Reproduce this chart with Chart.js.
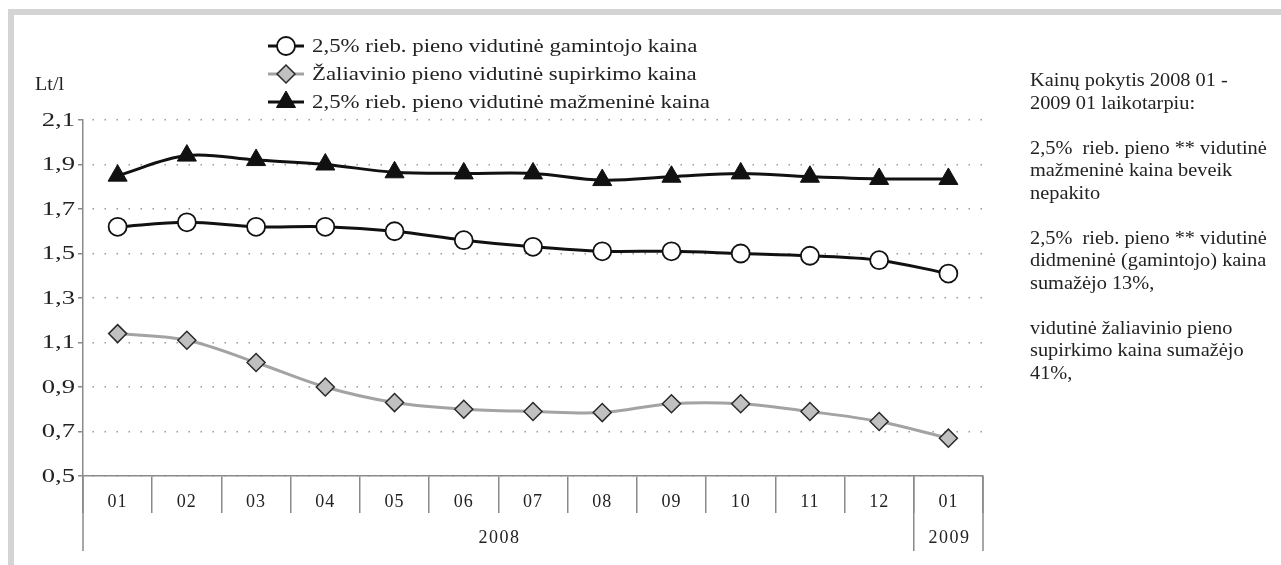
<!DOCTYPE html>
<html>
<head>
<meta charset="utf-8">
<script src="https://cdn.jsdelivr.net/npm/chart.js@4/dist/chart.umd.min.js"></script>
<style>
body { margin: 0; background: #fff; }
#wrap { position: relative; width: 1281px; height: 565px; overflow: hidden; }
#topband { position: absolute; left: 8px; right: 0; top: 9px; height: 6px; background: #d4d4d4; }
#leftband { position: absolute; left: 8px; width: 6px; top: 9px; bottom: 0; background: #d4d4d4; }
#chart { position: absolute; left: 0; top: 0; }
#note {
    position: absolute; left: 1030px; top: 69px;
    font: 18.5px 'Liberation Serif', serif; line-height: 22.5px;
    color: #222; white-space: pre;
    transform: scaleX(1.1); transform-origin: 0 0;
}
</style>
</head>
<body>
<div id="wrap">
  <div id="topband"></div>
  <div id="leftband"></div>
  <canvas id="chart" width="1281" height="565"></canvas>
  <div id="note">Kainų pokytis 2008 01 -
2009 01 laikotarpiu:

2,5%  rieb. pieno ** vidutinė
mažmeninė kaina beveik
nepakito

2,5%  rieb. pieno ** vidutinė
didmeninė (gamintojo) kaina
sumažėjo 13%,

vidutinė žaliavinio pieno
supirkimo kaina sumažėjo
41%,</div>
</div>
<script>
'use strict';

const months = [ '01', '02', '03', '04', '05', '06', '07', '08', '09', '10', '11', '12', '01' ];
const years = [ '2008', '2008', '2008', '2008', '2008', '2008', '2008', '2008', '2008', '2008', '2008', '2008', '2009' ];

// 2,5% rieb. pieno vidutinė gamintojo kaina
const producerPrice = [ 1.62, 1.64, 1.62, 1.62, 1.60, 1.56, 1.53, 1.51, 1.51, 1.50, 1.49, 1.47, 1.41 ];
// Žaliavinio pieno vidutinė supirkimo kaina
const rawMilkPrice = [ 1.14, 1.11, 1.01, 0.90, 0.83, 0.80, 0.79, 0.785, 0.825, 0.825, 0.79, 0.745, 0.67 ];
// 2,5% rieb. pieno vidutinė mažmeninė kaina
const retailPrice = [ 1.85, 1.94, 1.92, 1.90, 1.865, 1.86, 1.86, 1.83, 1.845, 1.86, 1.845, 1.835, 1.835 ];

const seriesNames = [
    '2,5% rieb. pieno vidutinė gamintojo kaina',
    'Žaliavinio pieno vidutinė supirkimo kaina',
    '2,5% rieb. pieno vidutinė mažmeninė kaina',
];

const FONT = "'Liberation Serif', serif";
const AXIS = '#8a8a8a';
const TEXT = '#222';

/**
 * 横に引き伸ばした文字列を描く
 */
function
stretchText(ctx, text, x, y, sx, align)
{
    ctx.save();
    ctx.translate(x, y);
    ctx.scale(sx, 1);
    ctx.textAlign = align;
    ctx.fillText(text, 0, 0);
    ctx.restore();
}

/**
 * 凡例（線＋マーカー）と単位、y 軸ラベルを描く
 */
const legendRows = {
    id: 'legendRows',
    afterDraw(chart) {
        const ctx = chart.ctx;
        const order = [ 1, 0, 2 ];
        ctx.save();
        ctx.letterSpacing = '0px';
        order.forEach((di, row) => {
            const ds = chart.data.datasets[di];
            const y = 46 + row * 28;
            ctx.beginPath();
            ctx.strokeStyle = ds.borderColor;
            ctx.lineWidth = ds.borderWidth;
            ctx.moveTo(268, y);
            ctx.lineTo(304, y);
            ctx.stroke();
            ctx.fillStyle = ds.pointBackgroundColor;
            ctx.strokeStyle = ds.pointBorderColor;
            ctx.lineWidth = ds.pointBorderWidth;
            Chart.helpers.drawPoint(ctx, {
                pointStyle: ds.pointStyle,
                radius: ds.pointRadius,
                rotation: 0,
                borderWidth: ds.pointBorderWidth,
            }, 286, y);
            ctx.fillStyle = TEXT;
            ctx.font = `18px ${FONT}`;
            ctx.textBaseline = 'middle';
            stretchText(ctx, ds.label, 312, y + 1, 1.27, 'left');
        });
        ctx.fillStyle = TEXT;
        ctx.font = `18px ${FONT}`;
        ctx.textBaseline = 'middle';
        stretchText(ctx, 'Lt/l', 35, chart.scales.y.top - 35, 1.12, 'left');

        // y 軸の目盛りラベル
        const y = chart.scales.y;
        ctx.font = `19px ${FONT}`;
        y.ticks.forEach(t => {
            const label = t.value.toFixed(1).replace('.', ',');
            stretchText(ctx, label, 75, y.getPixelForValue(t.value) + 1, 1.4, 'right');
        });
        ctx.restore();
    },
};

/**
 * 年の行（区切り線とラベル）を x 軸の下に描く
 */
const yearRow = {
    id: 'yearRow',
    afterDraw(chart) {
        const { ctx, scales: { x } } = chart;
        const half = (x.getPixelForValue(1) - x.getPixelForValue(0)) / 2;
        const top = x.top;
        const bottom = x.top + 75;
        const groups = [];
        years.forEach((yr, i) => {
            const last = groups[groups.length - 1];
            if (last && last.year === yr)
                last.end = i;
            else
                groups.push({ year: yr, start: i, end: i });
        });
        ctx.save();
        ctx.strokeStyle = AXIS;
        ctx.lineWidth = 1.5;
        ctx.fillStyle = TEXT;
        ctx.font = `18px ${FONT}`;
        ctx.letterSpacing = '1.5px';
        ctx.textAlign = 'center';
        ctx.textBaseline = 'middle';
        groups.forEach((g, k) => {
            const x0 = x.getPixelForValue(g.start) - half;
            const x1 = x.getPixelForValue(g.end) + half;
            ctx.beginPath();
            if (k === 0) {
                ctx.moveTo(x0, top);
                ctx.lineTo(x0, bottom);
            }
            ctx.moveTo(x1, top);
            ctx.lineTo(x1, bottom);
            ctx.stroke();
            ctx.fillText(g.year, (x0 + x1) / 2 + 1, x.top + 62);
        });
        ctx.restore();
    },
};

const spacing = {
    id: 'spacing',
    beforeDraw(chart) { chart.ctx.letterSpacing = '1px'; },
};

function
drawChart(canvas)
{
    return new Chart(canvas, {
        type: 'line',
        data: {
            labels: months,
            datasets: [
                {
                    label: seriesNames[1],
                    data: rawMilkPrice,
                    borderColor: '#a3a3a3',
                    borderWidth: 3,
                    tension: 0.35,
                    pointStyle: 'rectRot',
                    pointRadius: 9,
                    pointBackgroundColor: '#c0c0c0',
                    pointBorderColor: '#2a2a2a',
                    pointBorderWidth: 1.5,
                },
                {
                    label: seriesNames[0],
                    data: producerPrice,
                    borderColor: '#111',
                    borderWidth: 3,
                    tension: 0.35,
                    pointStyle: 'circle',
                    pointRadius: 9,
                    pointBackgroundColor: '#fff',
                    pointBorderColor: '#111',
                    pointBorderWidth: 1.8,
                },
                {
                    label: seriesNames[2],
                    data: retailPrice,
                    borderColor: '#111',
                    borderWidth: 3,
                    tension: 0.35,
                    pointStyle: 'triangle',
                    pointRadius: 11,
                    pointBackgroundColor: '#111',
                    pointBorderColor: '#111',
                    pointBorderWidth: 1,
                },
            ],
        },
        options: {
            responsive: false,
            animation: false,
            layout: { padding: { top: 120, right: 298, bottom: 0, left: 0 } },
            plugins: { legend: { display: false }, tooltip: { enabled: false } },
            scales: {
                x: {
                    offset: true,
                    grid: {
                        offset: true,
                        drawOnChartArea: false,
                        tickLength: 37,
                        color: AXIS,
                        lineWidth: 1.5,
                    },
                    border: { color: AXIS, width: 1.5 },
                    ticks: { padding: -22, color: TEXT, font: { family: FONT, size: 18 } },
                    afterFit(s) { s.height = 89; },
                },
                y: {
                    min: 0.5,
                    max: 2.1,
                    ticks: { stepSize: 0.2, display: false },
                    grid: {
                        color: '#9a9a9a',
                        lineWidth: 1.5,
                        tickLength: 5,
                        tickBorderDash: [],
                        tickColor: AXIS,
                    },
                    border: { color: AXIS, width: 1.5, dash: [ 1.5, 10.5 ], dashOffset: -9 },
                    afterFit(s) { s.width = 83; },
                },
            },
        },
        plugins: [ spacing, yearRow, legendRows ],
    });
}

drawChart(document.getElementById('chart'));
/* ex: se et ts=4 : */
</script>
</body>
</html>
